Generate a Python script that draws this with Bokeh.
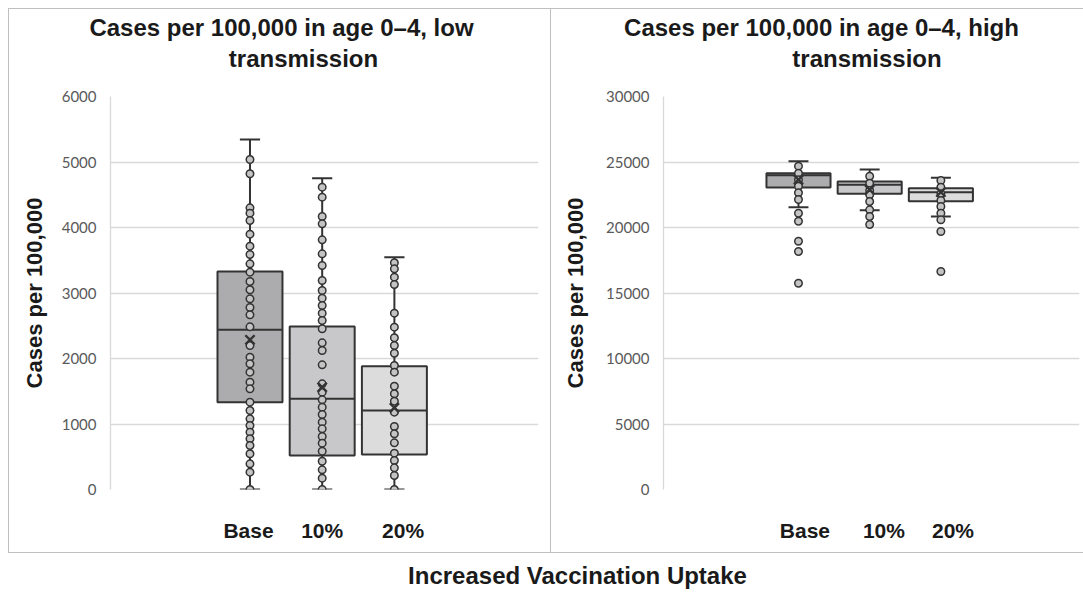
from bokeh.plotting import figure
from bokeh.layouts import row, column
from bokeh.models import FixedTicker, ColumnDataSource, Spacer
from bokeh.core.properties import value
from bokeh.embed import file_html
from bokeh.resources import INLINE

categories = ["Base", "10%", "20%"]
cat_pos = [-1, 0, 1]

# ---- low transmission ----
low_q1 = [1333, 519, 534]
low_median = [2438, 1384, 1206]
low_q3 = [3328, 2489, 1883]
low_whisker_lo = [0, 0, 0]
low_whisker_hi = [5343, 4753, 3547]
low_mean = [2285, 1562, 1247]
low_points_base = [5038, 4820, 4300, 4219, 4107, 3898, 3715, 3588, 3445, 3318, 3176, 3049,
                   2911, 2779, 2667, 2483, 2198, 2020, 1919, 1791, 1639, 1537, 1333, 1206,
                   1079, 977, 875, 774, 672, 545, 392, 265, 0]
low_points_10 = [4616, 4463, 4168, 4056, 3812, 3598, 3420, 3191, 3038, 2921, 2809, 2692,
                 2580, 2453, 2239, 2122, 1903, 1613, 1486, 1369, 1257, 1145, 1028, 926,
                 809, 707, 585, 432, 300, 173, 0]
low_points_20 = [3461, 3369, 3242, 3130, 2692, 2478, 2316, 2198, 2081, 1893, 1791, 1578,
                 1461, 1349, 1181, 962, 850, 712, 555, 443, 331, 214, 0]

# ---- high transmission ----
high_q1 = [23053, 22570, 22010]
high_median = [23992, 23257, 22697]
high_q3 = [24145, 23511, 23003]
high_whisker_lo = [21550, 21323, 20840]
high_whisker_hi = [25064, 24427, 23791]
high_mean = [23640, 22875, 22697]
high_points_base = [24680, 24145, 23640, 23153, 22649, 22137, 21092, 20481, 18954, 18168, 15748]
high_points_10 = [23916, 23382, 22824, 22496, 21985, 21349, 20840, 20229]
high_points_20 = [23588, 23079, 22570, 22061, 21603, 21094, 20585, 19695, 16641]

box_fills = ["#acacae", "#c8c8ca", "#dcdcdd"]
DARK = "#333333"
GRID = "#d9d9d9"
BORDER = "#bfbfbf"
TITLE_FONT = "Liberation Sans"
TICK_FONT = "Lato"


def pixel_fig(width, height):
    f = figure(width=width, height=height, output_backend="svg", toolbar_location=None,
               x_range=(0, width), y_range=(0, height), min_border=0, title=None,
               x_axis_type=None, y_axis_type=None)
    f.grid.visible = False
    f.outline_line_color = None
    f.border_fill_color = None
    f.background_fill_color = None
    return f


def add_text(f, x, y, txt, size="24px"):
    f.text(x=[x], y=[y], text=[txt], text_align="center", text_baseline="alphabetic",
           text_font=value(TITLE_FONT), text_font_style="bold", text_font_size=size,
           text_color="#1a1a1a")


def make_plot(width, q1, med, q3, wlo, whi, mean, pts, y_end, y_step,
              x_start, x_end, label_ticks, min_left, min_right, label_standoff):
    p = figure(width=width, height=467, output_backend="svg", toolbar_location=None,
               x_range=(x_start, x_end), y_range=(0, y_end), title=None,
               min_border_left=min_left, min_border_right=min_right,
               min_border_top=10, min_border_bottom=64)
    p.border_fill_color = None
    p.background_fill_color = None
    p.outline_line_color = None
    p.xgrid.grid_line_color = None
    p.ygrid.grid_line_color = GRID
    p.ygrid.grid_line_width = 1.3

    p.yaxis.ticker = FixedTicker(ticks=list(range(0, y_end + 1, y_step)))
    p.yaxis.axis_line_color = GRID
    p.yaxis.axis_line_width = 1.3
    p.yaxis.major_tick_line_color = None
    p.yaxis.major_tick_out = 0
    p.yaxis.major_tick_in = 0
    p.yaxis.minor_tick_line_color = None
    p.yaxis.major_label_standoff = 14
    p.yaxis.major_label_text_font = TICK_FONT
    p.yaxis.major_label_text_font_size = "15px"
    p.yaxis.major_label_text_color = "#595959"
    p.yaxis.axis_label = "Cases per 100,000"
    p.yaxis.axis_label_text_font = TITLE_FONT
    p.yaxis.axis_label_text_font_style = "bold"
    p.yaxis.axis_label_text_font_size = "22px"
    p.yaxis.axis_label_text_color = "#1a1a1a"
    p.yaxis.axis_label_standoff = label_standoff

    p.xaxis.ticker = FixedTicker(ticks=label_ticks)
    p.xaxis.major_label_overrides = {t: c for t, c in zip(label_ticks, categories)}
    p.xaxis.axis_line_color = None
    p.xaxis.major_tick_line_color = None
    p.xaxis.major_tick_out = 0
    p.xaxis.major_tick_in = 0
    p.xaxis.minor_tick_line_color = None
    p.xaxis.major_label_standoff = 29
    p.xaxis.major_label_text_font = TITLE_FONT
    p.xaxis.major_label_text_font_style = "bold"
    p.xaxis.major_label_text_font_size = "21px"
    p.xaxis.major_label_text_color = "#1a1a1a"

    src = ColumnDataSource(dict(x=cat_pos, q1=q1, med=med, q3=q3, wlo=wlo, whi=whi,
                                mean=mean, fill=box_fills,
                                xl=[c - 0.45 for c in cat_pos], xr=[c + 0.45 for c in cat_pos],
                                cl=[c - 0.14 for c in cat_pos], cr=[c + 0.14 for c in cat_pos]))
    p.segment(x0="x", y0="q3", x1="x", y1="whi", source=src, line_color=DARK, line_width=2)
    p.segment(x0="x", y0="q1", x1="x", y1="wlo", source=src, line_color=DARK, line_width=2)
    p.segment(x0="cl", y0="whi", x1="cr", y1="whi", source=src, line_color=DARK, line_width=2)
    p.segment(x0="cl", y0="wlo", x1="cr", y1="wlo", source=src, line_color=DARK, line_width=2)
    p.vbar(x="x", width=0.9, bottom="q1", top="q3", source=src, fill_color="fill",
           line_color=DARK, line_width=2)
    p.segment(x0="xl", y0="med", x1="xr", y1="med", source=src, line_color=DARK, line_width=2)

    for c, vals in zip(cat_pos, pts):
        p.scatter([c] * len(vals), vals, size=7.5, marker="circle", fill_color="#c4c4c4",
                  line_color=DARK, line_width=1.5)
    p.scatter(x="x", y="mean", source=src, marker="x", size=13, line_color=DARK, line_width=2.4)
    return p


# left panel
t1 = pixel_fig(543, 78)
add_text(t1, 273, 59, "Cases per 100,000 in age 0\u20134, low")
add_text(t1, 295, 28.5, "transmission")
p1 = make_plot(543, low_q1, low_median, low_q3, low_whisker_lo, low_whisker_hi, low_mean,
               [low_points_base, low_points_10, low_points_20],
               6000, 1000, -2.932, 2.996, [-1.02, 0.0, 1.12], 102, 13, 12)
left_panel = column(column(t1), column(p1), styles={"box-shadow": f"inset 0 0 0 1px {BORDER}"})

# right panel
t2 = pixel_fig(532, 78)
add_text(t2, 270, 59, "Cases per 100,000 in age 0\u20134, high")
add_text(t2, 315.5, 28.5, "transmission")
p2 = make_plot(532, high_q1, high_median, high_q3, high_whisker_lo, high_whisker_hi, high_mean,
               [high_points_base, high_points_10, high_points_20],
               30000, 5000, -2.896, 2.947, [-0.91, 0.2, 1.17], 112, 4, 15)
right_panel = column(column(t2), column(p2), styles={"box-shadow":
                     f"inset 0 1px 0 0 {BORDER}, inset 0 -1px 0 0 {BORDER}"})

# shared x-axis title
b = pixel_fig(1075, 40)
add_text(b, 569, 18, "Increased Vaccination Uptake")

layout = column(Spacer(height=8),
                row(Spacer(width=8), left_panel, right_panel),
                row(Spacer(width=8), b))
open("out.html", "w").write(file_html(layout, INLINE))
